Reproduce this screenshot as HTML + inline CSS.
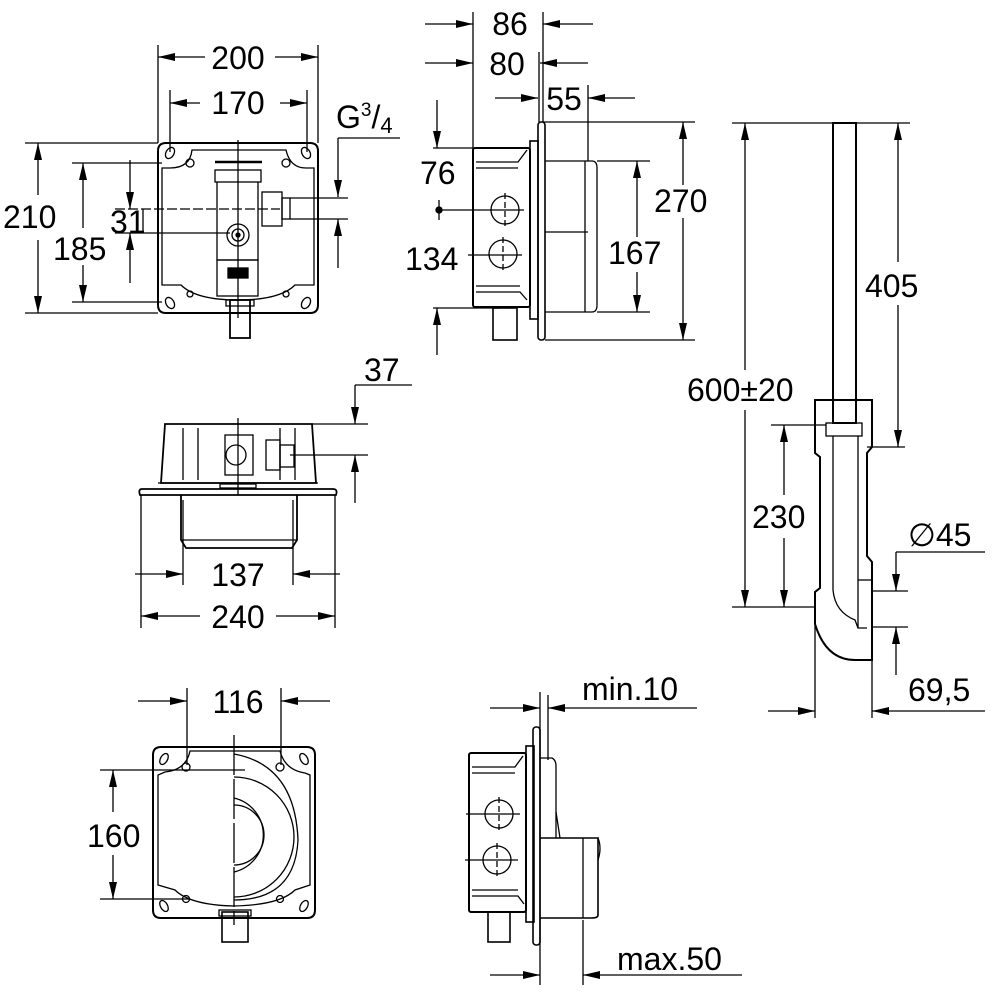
<!DOCTYPE html>
<html><head><meta charset="utf-8"><style>
html,body{margin:0;padding:0;background:#fff;}
svg{display:block;}
text{font-family:"Liberation Sans",sans-serif;font-size:32px;fill:#000;}
</style></head><body>
<svg width="1000" height="1000" viewBox="0 0 1000 1000" xmlns="http://www.w3.org/2000/svg">
<defs>
<marker id="a" markerUnits="userSpaceOnUse" markerWidth="18" markerHeight="8" refX="17" refY="4" orient="auto"><path d="M0,0 L17,4 L0,8 z" fill="#000"/></marker>
</defs>
<g stroke="#000" stroke-width="1.3" fill="none">
<line x1="158" y1="45" x2="158" y2="143"/><line x1="318" y1="45" x2="318" y2="143"/>
<line x1="205" y1="57" x2="158" y2="57" marker-end="url(#a)"/><line x1="275" y1="57" x2="318" y2="57" marker-end="url(#a)"/>
<line x1="170" y1="90" x2="170" y2="152"/><line x1="307" y1="90" x2="307" y2="152"/>
<line x1="200" y1="103" x2="170" y2="103" marker-end="url(#a)"/><line x1="280" y1="103" x2="307" y2="103" marker-end="url(#a)"/>
<line x1="400" y1="138" x2="338" y2="138"/><line x1="338" y1="138" x2="338" y2="197" marker-end="url(#a)"/>
<line x1="338" y1="268" x2="338" y2="219" marker-end="url(#a)"/>
<line x1="290" y1="198" x2="348" y2="198"/><line x1="290" y1="219" x2="348" y2="219"/>
<line x1="25" y1="143" x2="158" y2="143"/><line x1="25" y1="313" x2="158" y2="313"/>
<line x1="38" y1="195" x2="38" y2="143" marker-end="url(#a)"/><line x1="38" y1="240" x2="38" y2="313" marker-end="url(#a)"/>
<line x1="72" y1="163" x2="162" y2="163"/><line x1="72" y1="302" x2="162" y2="302"/>
<line x1="83" y1="228" x2="83" y2="163" marker-end="url(#a)"/><line x1="83" y1="265" x2="83" y2="302" marker-end="url(#a)"/>
<line x1="115" y1="209" x2="280" y2="209" stroke-dasharray="10,3"/><line x1="115" y1="233" x2="230" y2="233"/>
<line x1="143" y1="209" x2="143" y2="233"/>
<line x1="130" y1="160" x2="130" y2="209" marker-end="url(#a)"/><line x1="130" y1="283" x2="130" y2="233" marker-end="url(#a)"/>
<path d="M166,143 H310 Q318,143 318,151 V305 Q318,313 310,313 H166 Q158,313 158,305 V151 Q158,143 166,143 Z" stroke-width="2"/>
<path d="M192,150 L286,150 Q290,168 306,168 L314,168 L314,285 L295,285 Q280,300 238,300 Q196,300 181,285 L162,285 L162,168 L170,168 Q190,168 192,150 Z"/>
<ellipse cx="170" cy="153" rx="4" ry="6" transform="rotate(30 170 153)"/><ellipse cx="306" cy="153" rx="4" ry="6" transform="rotate(-30 306 153)"/>
<ellipse cx="170" cy="303" rx="4" ry="6" transform="rotate(-30 170 303)"/><ellipse cx="306" cy="303" rx="4" ry="6" transform="rotate(30 306 303)"/>
<circle cx="190" cy="163" r="4"/><circle cx="286" cy="163" r="4"/><circle cx="190" cy="294" r="3"/><circle cx="286" cy="294" r="3"/>
<line x1="215" y1="162" x2="262" y2="162" stroke-width="2.5"/><line x1="238" y1="140" x2="238" y2="318"/>
<rect x="215" y="170" width="46" height="12"/>
<path d="M217,182 V260 H258 V182"/>
<rect x="217" y="260" width="41" height="36"/>
<rect x="228" y="268" width="20" height="10" fill="#000"/>
<circle cx="238" cy="235" r="11"/><circle cx="238" cy="235" r="6"/><circle cx="238" cy="235" r="2" fill="#000"/>
<rect x="262" y="192" width="20" height="34"/><rect x="282" y="198" width="8" height="21"/>
<rect x="230" y="300" width="20" height="38" stroke-width="1.8"/><rect x="226" y="300" width="28" height="6"/>
<line x1="473" y1="12" x2="473" y2="148"/><line x1="543" y1="12" x2="543" y2="122"/><line x1="539" y1="52" x2="539" y2="122"/><line x1="588" y1="85" x2="588" y2="161"/>
<line x1="425" y1="24" x2="473" y2="24" marker-end="url(#a)"/><line x1="593" y1="24" x2="543" y2="24" marker-end="url(#a)"/>
<line x1="425" y1="63" x2="473" y2="63" marker-end="url(#a)"/><line x1="588" y1="63" x2="540" y2="63" marker-end="url(#a)"/>
<line x1="495" y1="98" x2="538" y2="98" marker-end="url(#a)"/><line x1="635" y1="98" x2="588" y2="98" marker-end="url(#a)"/>
<line x1="543" y1="122" x2="695" y2="122"/><line x1="545" y1="340" x2="695" y2="340"/>
<line x1="683" y1="185" x2="683" y2="122" marker-end="url(#a)"/><line x1="683" y1="218" x2="683" y2="340" marker-end="url(#a)"/>
<line x1="597" y1="161" x2="650" y2="161"/><line x1="597" y1="312" x2="650" y2="312"/>
<line x1="637" y1="237" x2="637" y2="161" marker-end="url(#a)"/><line x1="637" y1="272" x2="637" y2="312" marker-end="url(#a)"/>
<line x1="437" y1="100" x2="437" y2="148" marker-end="url(#a)"/><line x1="433" y1="148" x2="473" y2="148"/>
<line x1="437" y1="355" x2="437" y2="308" marker-end="url(#a)"/><line x1="433" y1="308" x2="500" y2="308"/>
<line x1="439" y1="200" x2="439" y2="220"/><circle cx="439" cy="210" r="3" fill="#000"/>
<line x1="439" y1="210" x2="524" y2="210"/><line x1="468" y1="255" x2="522" y2="255"/>
<rect x="473" y="148" width="57" height="159" rx="2" stroke-width="2"/>
<path d="M476,162 H518 L527,150 M476,168 H518 M476,292 H520 L527,300 M476,286 H520"/>
<rect x="530" y="141" width="8" height="178" stroke-width="1.6"/>
<rect x="538" y="122" width="7" height="218" rx="3" stroke-width="1.6"/>
<path d="M545,161 H592 Q597,161 597,168 V305 Q597,312 592,312 H545"/><line x1="585" y1="161" x2="585" y2="312"/><line x1="545" y1="232" x2="588" y2="232"/>
<circle cx="505" cy="210" r="14"/><line x1="505" y1="193" x2="505" y2="227" stroke-dasharray="6,3"/>
<circle cx="503" cy="254" r="14"/><line x1="503" y1="237" x2="503" y2="271" stroke-dasharray="6,3"/>
<rect x="493" y="308" width="24" height="32" stroke-width="1.6"/>
<line x1="355" y1="385" x2="412" y2="385"/><line x1="355" y1="385" x2="355" y2="424" marker-end="url(#a)"/>
<line x1="312" y1="424" x2="368" y2="424"/><line x1="290" y1="455" x2="368" y2="455"/>
<line x1="355" y1="503" x2="355" y2="455" marker-end="url(#a)"/>
<path d="M165,424 H312 L316,483 H161 Z" stroke-width="1.8"/>
<line x1="183" y1="428" x2="183" y2="480"/><line x1="198" y1="428" x2="198" y2="480"/><line x1="280" y1="428" x2="280" y2="480"/><line x1="295" y1="428" x2="295" y2="480"/>
<line x1="158" y1="483" x2="318" y2="483"/>
<path d="M142,489 H333 Q338,489 336,495 H140 Q138,489 142,489 Z" stroke-width="1.8"/>
<path d="M181,495 V540 L186,548 H292 L297,540 V495" stroke-width="1.8"/><line x1="181" y1="540" x2="297" y2="540"/>
<line x1="238" y1="418" x2="238" y2="495"/>
<rect x="225" y="435" width="28" height="40"/><circle cx="236" cy="455" r="10"/>
<rect x="266" y="440" width="14" height="30"/><rect x="280" y="445" width="14" height="22"/>
<rect x="220" y="484" width="36" height="4"/>
<line x1="183" y1="500" x2="183" y2="585"/><line x1="293" y1="500" x2="293" y2="585"/>
<line x1="135" y1="574" x2="183" y2="574" marker-end="url(#a)"/><line x1="340" y1="574" x2="293" y2="574" marker-end="url(#a)"/>
<line x1="141" y1="495" x2="141" y2="628"/><line x1="335" y1="495" x2="335" y2="628"/>
<line x1="200" y1="616" x2="141" y2="616" marker-end="url(#a)"/><line x1="276" y1="616" x2="335" y2="616" marker-end="url(#a)"/>
<line x1="732" y1="123" x2="910" y2="123"/><line x1="732" y1="607" x2="815" y2="607"/>
<line x1="745" y1="370" x2="745" y2="123" marker-end="url(#a)"/><line x1="745" y1="410" x2="745" y2="607" marker-end="url(#a)"/>
<line x1="898" y1="262" x2="898" y2="123" marker-end="url(#a)"/><line x1="898" y1="305" x2="898" y2="447" marker-end="url(#a)"/><line x1="867" y1="447" x2="905" y2="447"/>
<line x1="771" y1="425" x2="826" y2="425"/>
<line x1="784" y1="495" x2="784" y2="425" marker-end="url(#a)"/><line x1="784" y1="538" x2="784" y2="607" marker-end="url(#a)"/>
<line x1="985" y1="552" x2="896" y2="552"/><line x1="896" y1="552" x2="896" y2="591" marker-end="url(#a)"/>
<line x1="872" y1="591" x2="908" y2="591"/><line x1="872" y1="627" x2="908" y2="627"/>
<line x1="896" y1="675" x2="896" y2="627" marker-end="url(#a)"/>
<line x1="815" y1="624" x2="815" y2="718"/><line x1="872" y1="660" x2="872" y2="718"/>
<line x1="768" y1="711" x2="815" y2="711" marker-end="url(#a)"/><line x1="985" y1="711" x2="872" y2="711" marker-end="url(#a)"/>
<rect x="833" y="123" width="23" height="300" stroke-width="2"/>
<path d="M815,400 H872 V447 L867,453 V556 L872,562 V660 H855 Q826,660 815,624 V592 L820,588 V457 L815,453 Z" stroke-width="2"/>
<rect x="826" y="423" width="36" height="13"/>
<path d="M833,436 V590 Q835,612 855,620 L858,628 H867"/><line x1="858" y1="436" x2="858" y2="628"/><line x1="858" y1="580" x2="872" y2="580"/>
<line x1="187" y1="688" x2="187" y2="765"/><line x1="281" y1="688" x2="281" y2="765"/>
<line x1="138" y1="701" x2="187" y2="701" marker-end="url(#a)"/><line x1="330" y1="701" x2="281" y2="701" marker-end="url(#a)"/>
<line x1="100" y1="770" x2="245" y2="770"/><line x1="100" y1="899" x2="190" y2="899"/>
<line x1="113" y1="812" x2="113" y2="770" marker-end="url(#a)"/><line x1="113" y1="855" x2="113" y2="899" marker-end="url(#a)"/>
<path d="M161,747 H307 Q315,747 315,755 V910 Q315,918 307,918 H161 Q153,918 153,910 V755 Q153,747 161,747 Z" stroke-width="2"/>
<path d="M190,751 H280 Q285,770 305,773 L310,775 V885 L295,890 Q280,905 234,906 Q190,905 175,890 L158,885 V775 L165,772 Q186,770 190,751 Z"/>
<ellipse cx="164" cy="759" rx="3.5" ry="6" transform="rotate(30 164 759)"/><ellipse cx="304" cy="759" rx="3.5" ry="6" transform="rotate(-30 304 759)"/>
<ellipse cx="164" cy="906" rx="3.5" ry="6" transform="rotate(-30 164 906)"/><ellipse cx="304" cy="906" rx="3.5" ry="6" transform="rotate(30 304 906)"/>
<circle cx="186" cy="767" r="4"/><circle cx="280" cy="767" r="4"/><circle cx="186" cy="899" r="3.5"/><circle cx="280" cy="899" r="3.5"/>
<line x1="234" y1="735" x2="234" y2="925" stroke-dasharray="40,4"/>
<path d="M234,777 A60,60 0 0 1 234,897"/><path d="M234,798 A38,38 0 0 1 234,872"/><path d="M234,805 A30,30 0 0 1 234,865"/>
<path d="M234,754 Q295,765 298,840 Q295,900 234,900"/>
<rect x="222" y="912" width="26" height="30" stroke-width="1.6"/><rect x="219" y="910" width="32" height="6"/>
<line x1="540" y1="692" x2="540" y2="985"/><line x1="548" y1="695" x2="548" y2="760"/>
<line x1="490" y1="708" x2="540" y2="708" marker-end="url(#a)"/><line x1="697" y1="708" x2="548" y2="708" marker-end="url(#a)"/>
<line x1="583" y1="920" x2="583" y2="985"/>
<line x1="490" y1="975" x2="540" y2="975" marker-end="url(#a)"/><line x1="742" y1="975" x2="583" y2="975" marker-end="url(#a)"/>
<rect x="469" y="753" width="57" height="159" rx="2" stroke-width="2"/>
<path d="M472,767 H515 L523,756 M472,773 H515 M472,896 H518 L524,904 M472,890 H518"/>
<rect x="526" y="746" width="8" height="176" stroke-width="1.6"/>
<rect x="533" y="727" width="7" height="218" rx="3" stroke-width="1.6"/>
<path d="M540,758 H552 Q556,760 556,766 V838"/><line x1="556" y1="812" x2="560" y2="838"/>
<path d="M540,838 H598 V915 Q598,918 592,918 H540" stroke-width="1.6"/><line x1="583" y1="838" x2="583" y2="918"/><path d="M598,838 Q602,848 598,860"/>
<circle cx="499" cy="814" r="14"/><line x1="499" y1="797" x2="499" y2="831" stroke-dasharray="6,3"/><line x1="466" y1="814" x2="520" y2="814"/>
<circle cx="497" cy="860" r="14"/><line x1="497" y1="843" x2="497" y2="877" stroke-dasharray="6,3"/><line x1="465" y1="860" x2="518" y2="860"/>
<rect x="488" y="912" width="22" height="30" stroke-width="1.6"/>
</g>
<text x="238" y="69" text-anchor="middle">200</text>
<text x="238" y="114" text-anchor="middle">170</text>
<text x="336" y="128">G<tspan font-size="19" dy="-12">3</tspan><tspan dy="12">/</tspan><tspan font-size="22" dy="5">4</tspan></text>
<text x="3" y="228">210</text>
<text x="53" y="260">185</text>
<text x="110" y="233">31</text>
<text x="510" y="35" text-anchor="middle">86</text>
<text x="507" y="75" text-anchor="middle">80</text>
<text x="564" y="110" text-anchor="middle">55</text>
<text x="420" y="184">76</text>
<text x="405" y="270">134</text>
<text x="654" y="212">270</text>
<text x="608" y="264">167</text>
<text x="364" y="381">37</text>
<text x="238" y="586" text-anchor="middle">137</text>
<text x="238" y="628" text-anchor="middle">240</text>
<text x="687" y="401">600±20</text>
<text x="865" y="297">405</text>
<text x="752" y="528">230</text>
<text x="908" y="546">∅45</text>
<text x="908" y="701">69,5</text>
<text x="238" y="713" text-anchor="middle">116</text>
<text x="87" y="847">160</text>
<text x="582" y="700">min.10</text>
<text x="617" y="970">max.50</text>
</svg>
</body></html>
